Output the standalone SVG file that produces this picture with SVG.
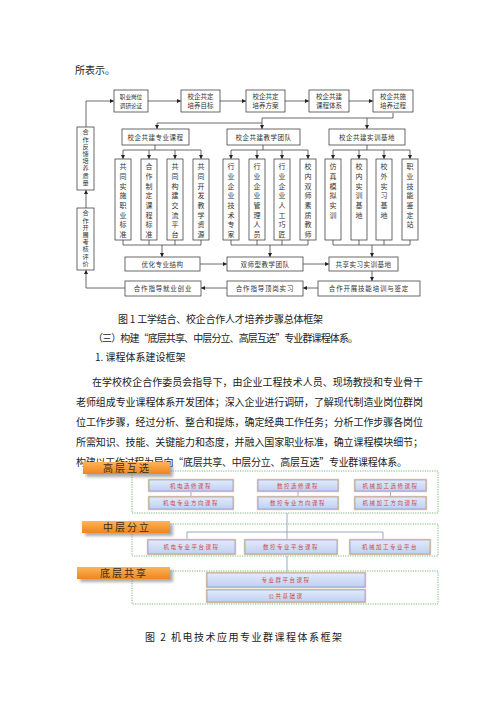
<svg xmlns="http://www.w3.org/2000/svg" width="500" height="707" viewBox="0 0 500 707">
<defs>
<style>
.b{fill:#fff;stroke:#444;stroke-width:0.8}
.t{font-family:"Noto Sans CJK SC",sans-serif;fill:#333;font-size:6.5px;text-anchor:middle}
.v{font-family:"Noto Sans CJK SC",sans-serif;fill:#333;font-size:7px;writing-mode:vertical-rl;letter-spacing:2.7px}
.vl{font-family:"Noto Sans CJK SC",sans-serif;fill:#333;font-size:6.2px;writing-mode:vertical-rl;letter-spacing:1px}
.c path{fill:none;stroke:#444;stroke-width:0.8}
.body{font-family:"Noto Sans CJK SC",sans-serif;fill:#222;font-size:10px}
.bb{fill:url(#bg);stroke:#7f90b8;stroke-width:0.6}
.gl{fill:none;stroke:#edc9a0;stroke-width:2.4}
.bt{font-family:"Noto Sans CJK SC",sans-serif;fill:#d04848;font-size:5.5px;text-anchor:middle;letter-spacing:1.5px}
.og{fill:url(#og)}
.ot{font-family:"Noto Sans CJK SC",sans-serif;fill:#3a2c20;font-size:10px;text-anchor:middle;letter-spacing:2px}
.sec{fill:none;stroke:#5aa55a;stroke-width:0.8;stroke-dasharray:1.2 1.2}
.c2 path{fill:none;stroke:#7f95b5;stroke-width:0.8}
</style>
<marker id="a" viewBox="0 0 10 10" refX="10" refY="5" markerWidth="4" markerHeight="4" orient="auto" markerUnits="userSpaceOnUse"><path d="M0,0 L10,5 L0,10 z" fill="#222"/></marker>
<linearGradient id="bg" x1="0" y1="0" x2="0" y2="1"><stop offset="0" stop-color="#e3ebfb"/><stop offset="1" stop-color="#bfd0f2"/></linearGradient>
<linearGradient id="og" x1="0" y1="0" x2="0" y2="1"><stop offset="0" stop-color="#fbb45a"/><stop offset="1" stop-color="#f0851c"/></linearGradient>
<filter id="sh" x="-20%" y="-50%" width="140%" height="200%"><feGaussianBlur stdDeviation="1.5"/></filter>
</defs>
<rect width="500" height="707" fill="#fff"/>

<text class="body" x="75" y="74">所表示。</text>

<!-- connectors diagram 1 -->
<g id="connectors" class="c">
<path d="M147,101 H181" marker-end="url(#a)"/>
<path d="M220,101 H246" marker-end="url(#a)"/>
<path d="M285,101 H309" marker-end="url(#a)"/>
<path d="M349,101 H373" marker-end="url(#a)"/>
<path d="M86,127 V101 H114" marker-end="url(#a)"/>
<path d="M393,113 V118 H262 V129" marker-end="url(#a)"/>
<path d="M367,118 V129" marker-end="url(#a)"/>
<path d="M262,123 H157 V129" marker-end="url(#a)"/>
<path d="M155,145 V150 M123,150 H201"/>
<path d="M123,150 V159" marker-end="url(#a)"/>
<path d="M149,150 V159" marker-end="url(#a)"/>
<path d="M175,150 V159" marker-end="url(#a)"/>
<path d="M201,150 V159" marker-end="url(#a)"/>
<path d="M263,145 V150 M231,150 H308"/>
<path d="M231,150 V159" marker-end="url(#a)"/>
<path d="M257,150 V159" marker-end="url(#a)"/>
<path d="M282,150 V159" marker-end="url(#a)"/>
<path d="M308,150 V159" marker-end="url(#a)"/>
<path d="M367,145 V150 M333,150 H410"/>
<path d="M333,150 V159" marker-end="url(#a)"/>
<path d="M359,150 V159" marker-end="url(#a)"/>
<path d="M384,150 V159" marker-end="url(#a)"/>
<path d="M410,150 V159" marker-end="url(#a)"/>
<path d="M123,240 V245 M149,240 V245 M175,240 V245 M201,240 V245 M123,245 H201"/>
<path d="M231,240 V245 M257,240 V245 M282,240 V245 M308,240 V245 M231,245 H308"/>
<path d="M333,240 V245 M359,240 V245 M384,240 V245 M410,240 V245 M333,245 H410"/>
<path d="M162,245 V257" marker-end="url(#a)"/>
<path d="M270,245 V257" marker-end="url(#a)"/>
<path d="M372,245 V257" marker-end="url(#a)"/>
<path d="M200,264 H227" marker-end="url(#a)"/>
<path d="M303,264 H329" marker-end="url(#a)"/>
<path d="M372,271 V281" marker-end="url(#a)"/>
<path d="M318,288 H303" marker-end="url(#a)"/>
<path d="M227,288 H201" marker-end="url(#a)"/>
<path d="M125,288 H86 V270" marker-end="url(#a)"/>
<path d="M86,208 V190" marker-end="url(#a)"/>
</g>

<!-- top row -->
<g id="n1"><rect class="b" x="114" y="90" width="34" height="22"/><text class="t" x="131" y="99" style="font-size:5.6px">职业岗位</text><text class="t" x="131" y="108" style="font-size:5.6px">调研论证</text></g>
<g id="n2"><rect class="b" x="181" y="90" width="39" height="22"/><text class="t" x="200.5" y="99">校企共定</text><text class="t" x="200.5" y="108">培养目标</text></g>
<g id="n3"><rect class="b" x="246" y="90" width="39" height="22"/><text class="t" x="265.5" y="99">校企共定</text><text class="t" x="265.5" y="108">培养方案</text></g>
<g id="n4"><rect class="b" x="309" y="90" width="40" height="22"/><text class="t" x="329" y="99">校企共建</text><text class="t" x="329" y="108">课程体系</text></g>
<g id="n5"><rect class="b" x="373" y="90" width="40" height="22"/><text class="t" x="393" y="99">校企共施</text><text class="t" x="393" y="108">培养过程</text></g>

<!-- second row -->
<g id="n6"><rect class="b" x="122" y="129" width="67" height="16"/><text class="t" x="155.5" y="139.5" style="letter-spacing:0.5px">校企共建专业课程</text></g>
<g id="n7"><rect class="b" x="227" y="129" width="73" height="16"/><text class="t" x="263.5" y="139.5" style="letter-spacing:0.5px">校企共建教学团队</text></g>
<g id="n8"><rect class="b" x="329" y="129" width="76" height="16"/><text class="t" x="367" y="139.5" style="letter-spacing:0.5px">校企共建实训基地</text></g>

<!-- left boxes -->
<g id="n9"><rect class="b" x="77" y="127" width="17" height="63"/><text class="vl" x="85.5" y="129">合作反馈培养质量</text></g>
<g id="n10"><rect class="b" x="77" y="208" width="17" height="62"/><text class="vl" x="85.5" y="210">合作开展考核评价</text></g>

<!-- vertical boxes -->
<g id="v1"><rect class="b" x="115" y="159" width="16" height="81"/><text class="v" x="123" y="163">共同实施职业标准</text></g>
<g id="v2"><rect class="b" x="141" y="159" width="16" height="81"/><text class="v" x="149" y="163">合作制定课程标准</text></g>
<g id="v3"><rect class="b" x="167" y="159" width="16" height="81"/><text class="v" x="175" y="163">共同构建交流平台</text></g>
<g id="v4"><rect class="b" x="193" y="159" width="16" height="81"/><text class="v" x="201" y="163">共同开发教学资源</text></g>
<g id="v5"><rect class="b" x="223" y="159" width="16" height="81"/><text class="v" x="231" y="163">行业企业技术专家</text></g>
<g id="v6"><rect class="b" x="249" y="159" width="16" height="81"/><text class="v" x="257" y="163">行业企业管理人员</text></g>
<g id="v7"><rect class="b" x="274" y="159" width="16" height="81"/><text class="v" x="282" y="163">行业企业人工巧匠</text></g>
<g id="v8"><rect class="b" x="300" y="159" width="16" height="81"/><text class="v" x="308" y="163">校内双师素质教师</text></g>
<g id="v9"><rect class="b" x="325" y="159" width="16" height="81"/><text class="v" x="333" y="163">仿真模拟实训</text></g>
<g id="v10"><rect class="b" x="351" y="159" width="16" height="81"/><text class="v" x="359" y="163">校内实训基地</text></g>
<g id="v11"><rect class="b" x="376" y="159" width="16" height="81"/><text class="v" x="384" y="163">校外实习基地</text></g>
<g id="v12"><rect class="b" x="402" y="159" width="16" height="81"/><text class="v" x="410" y="163">职业技能鉴定站</text></g>

<!-- third row -->
<g id="n11"><rect class="b" x="125" y="257" width="75" height="14"/><text class="t" x="162.5" y="266.5" style="letter-spacing:0.5px">优化专业结构</text></g>
<g id="n12"><rect class="b" x="227" y="257" width="76" height="14"/><text class="t" x="265" y="266.5" style="letter-spacing:0.5px">双师型教学团队</text></g>
<g id="n13"><rect class="b" x="329" y="257" width="69" height="14"/><text class="t" x="363.5" y="266.5" style="letter-spacing:0.5px">共享实习实训基地</text></g>

<!-- fourth row -->
<g id="n14"><rect class="b" x="125" y="281" width="76" height="15"/><text class="t" x="163" y="291" style="letter-spacing:0.8px">合作指导就业创业</text></g>
<g id="n15"><rect class="b" x="227" y="281" width="76" height="15"/><text class="t" x="265" y="291" style="letter-spacing:0.8px">合作指导顶岗实习</text></g>
<g id="n16"><rect class="b" x="318" y="281" width="102" height="15"/><text class="t" x="369" y="291" style="letter-spacing:0.8px">合作开展技能培训与鉴定</text></g>

<!-- text -->
<text class="body" x="118" y="323" textLength="205" lengthAdjust="spacing">图 1  工学结合、校企合作人才培养步骤总体框架</text>
<text class="body" x="93" y="342" textLength="265" lengthAdjust="spacing">（三）构建“底层共享、中层分立、高层互选”专业群课程体系。</text>
<text class="body" x="95" y="361">1. 课程体系建设框架</text>
<text class="body" x="92" y="386" textLength="331" lengthAdjust="spacing">在学校校企合作委员会指导下，由企业工程技术人员、现场教授和专业骨干</text>
<text class="body" x="76" y="406" textLength="347" lengthAdjust="spacing">老师组成专业课程体系开发团体；深入企业进行调研，了解现代制造业岗位群岗</text>
<text class="body" x="76" y="426" textLength="347" lengthAdjust="spacing">位工作步骤，经过分析、整合和提炼，确定经典工作任务；分析工作步骤各岗位</text>
<text class="body" x="76" y="446" textLength="347" lengthAdjust="spacing">所需知识、技能、关键能力和态度，并融入国家职业标准，确立课程模块细节；</text>
<text class="body" x="76" y="466" textLength="331" lengthAdjust="spacing">构建以工作过程为导向“底层共享、中层分立、高层互选”专业群课程体系。</text>

<!-- diagram 2 -->
<rect class="sec" x="132" y="471" width="306" height="42"/>
<rect class="sec" x="132" y="524" width="306" height="32"/>
<rect class="sec" x="132" y="571" width="306" height="33"/>

<g id="connectors2" class="c2">
<path d="M191,491 V497 M298,491 V497 M390.5,491 V497"/>
<path d="M287,513 V540 M187,532 H383 M187,532 V540 M383,532 V540"/>
<path d="M287,556 V573"/>
</g>

<g id="L1"><rect x="86" y="465" width="87" height="12" fill="#777" opacity="0.6" filter="url(#sh)"/><rect class="og" x="83" y="462" width="87" height="12"/><text class="ot" x="127" y="472">高层互选</text></g>
<g id="L2"><rect x="85" y="524" width="88" height="12" fill="#777" opacity="0.6" filter="url(#sh)"/><rect class="og" x="82" y="521" width="88" height="12"/><text class="ot" x="127" y="531">中层分立</text></g>
<g id="L3"><rect x="80" y="570" width="93" height="12" fill="#777" opacity="0.6" filter="url(#sh)"/><rect class="og" x="77" y="567" width="93" height="12"/><text class="ot" x="124" y="577">底层共享</text></g>

<g id="b1"><rect class="gl" x="149" y="480" width="84" height="11"/><rect class="bb" x="149" y="480" width="84" height="11"/><text class="bt" x="191" y="487.5">机电选修课程</text></g>
<g id="b2"><rect class="gl" x="258" y="480" width="80" height="11"/><rect class="bb" x="258" y="480" width="80" height="11"/><text class="bt" x="298" y="487.5">数控选修课程</text></g>
<g id="b3"><rect class="gl" x="355" y="480" width="71" height="11"/><rect class="bb" x="355" y="480" width="71" height="11"/><text class="bt" x="390.5" y="487.5">机械加工选修课程</text></g>
<g id="b4"><rect class="gl" x="149" y="497" width="84" height="12"/><rect class="bb" x="149" y="497" width="84" height="12"/><text class="bt" x="191" y="505">机电专业方向课程</text></g>
<g id="b5"><rect class="gl" x="258" y="497" width="80" height="12"/><rect class="bb" x="258" y="497" width="80" height="12"/><text class="bt" x="298" y="505">数控专业方向课程</text></g>
<g id="b6"><rect class="gl" x="355" y="497" width="71" height="12"/><rect class="bb" x="355" y="497" width="71" height="12"/><text class="bt" x="390.5" y="505">机械加工方向课程</text></g>
<g id="b7"><rect class="gl" x="148" y="540" width="87" height="14"/><rect class="bb" x="148" y="540" width="87" height="14"/><text class="bt" x="191.5" y="549">机电专业平台课程</text></g>
<g id="b8"><rect class="gl" x="245" y="540" width="92" height="14"/><rect class="bb" x="245" y="540" width="92" height="14"/><text class="bt" x="291" y="549">数控专业平台课程</text></g>
<g id="b9"><rect class="gl" x="350" y="540" width="80" height="14"/><rect class="bb" x="350" y="540" width="80" height="14"/><text class="bt" x="390" y="549">机械加工专业平台</text></g>
<g id="b10"><rect class="gl" x="207" y="573" width="158" height="14"/><rect class="bb" x="207" y="573" width="158" height="14"/><text class="bt" x="286" y="582">专业群平台课程</text></g>
<g id="b11"><rect class="gl" x="207" y="590" width="158" height="12"/><rect class="bb" x="207" y="590" width="158" height="12"/><text class="bt" x="286" y="598">公共基础课</text></g>

<text class="body" x="145" y="641" textLength="197" lengthAdjust="spacing">图 2 机电技术应用专业群课程体系框架</text>
</svg>
